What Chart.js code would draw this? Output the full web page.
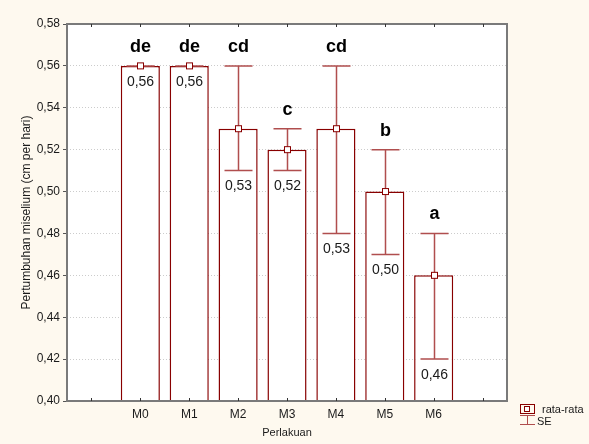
<!DOCTYPE html>
<html>
<head>
<meta charset="utf-8">
<script src="https://cdn.jsdelivr.net/npm/chart.js@4.4.1/dist/chart.umd.min.js"></script>
<style>
  html, body { margin: 0; padding: 0; background: #fef9ef; }
  #wadah { width: 589px; height: 444px; }
</style>
</head>
<body>
<div id="wadah"><canvas id="grafik" width="589" height="444"></canvas></div>
<script>
// Data perlakuan (kosong di kiri dan kanan seperti grafik aslinya)
const kategori = ['', 'M0', 'M1', 'M2', 'M3', 'M4', 'M5', 'M6', ''];
const rataRata = [null, 0.56, 0.56, 0.53, 0.52, 0.53, 0.50, 0.46, null];
const seBawah = [null, 0.56, 0.56, 0.51, 0.51, 0.48, 0.47, 0.42, null];
const seAtas = [null, 0.56, 0.56, 0.56, 0.53, 0.56, 0.52, 0.48, null];
const labelNilai = ['', '0,56', '0,56', '0,53', '0,52', '0,53', '0,50', '0,46', ''];
const notasi = ['', 'de', 'de', 'cd', 'c', 'cd', 'b', 'a', ''];

const warnaBatang = '#880000';
const warnaSE = '#b04e4e';
const huruf = '"Liberation Sans", Arial, sans-serif';

// Plugin untuk error bar, label, bingkai dan legenda
const pluginTambahan = {
    id: 'tambahan',
    afterDatasetsDraw(chart) {
        const ctx = chart.ctx;
        const x = chart.scales.x;
        const y = chart.scales.y;
        const area = chart.chartArea;
        ctx.save();
        // error bar
        for (let i = 0; i < kategori.length; i++) {
            if (rataRata[i] === null) continue;
            const px = Math.round(x.getPixelForValue(i)) + 0.5;
            const yAtas = y.getPixelForValue(seAtas[i]);
            const yBawah = y.getPixelForValue(seBawah[i]);
            const yMean = y.getPixelForValue(rataRata[i]);
            ctx.strokeStyle = warnaSE;
            ctx.lineWidth = 1.5;
            ctx.beginPath();
            ctx.moveTo(px, yAtas); ctx.lineTo(px, yBawah);
            ctx.moveTo(px - 14, yAtas); ctx.lineTo(px + 14, yAtas);
            ctx.moveTo(px - 14, yBawah); ctx.lineTo(px + 14, yBawah);
            ctx.stroke();
            // titik rata-rata
            ctx.fillStyle = '#ffffff';
            ctx.strokeStyle = warnaBatang;
            ctx.lineWidth = 1;
            ctx.fillRect(px - 3, yMean - 3, 6, 6);
            ctx.strokeRect(px - 3, yMean - 3, 6, 6);
            // label nilai
            ctx.fillStyle = '#1a1a1a';
            ctx.font = '14px ' + huruf;
            ctx.textAlign = 'center';
            ctx.textBaseline = 'middle';
            ctx.fillText(labelNilai[i], px, yBawah + 16);
            // notasi huruf
            ctx.font = 'bold 18px ' + huruf;
            ctx.fillStyle = '#000000';
            ctx.fillText(notasi[i], px, yAtas - 19);
        }
        // bingkai
        ctx.strokeStyle = '#7a7a7a';
        ctx.lineWidth = 2;
        ctx.strokeRect(area.left, area.top, area.right - area.left, area.bottom - area.top);
        // tanda tick kecil di sumbu x
        ctx.lineWidth = 1;
        ctx.strokeStyle = '#333333';
        for (let i = 0; i < kategori.length; i++) {
            const px = Math.round(x.getPixelForValue(i)) + 0.5;
            ctx.beginPath();
            ctx.moveTo(px, area.bottom - 3); ctx.lineTo(px, area.bottom);
            ctx.moveTo(px, area.top); ctx.lineTo(px, area.top + 3);
            ctx.stroke();
        }
        // legenda
        ctx.strokeStyle = warnaBatang;
        ctx.lineWidth = 1;
        ctx.strokeRect(520.5, 404.5, 14, 9);
        ctx.fillStyle = '#ffffff';
        ctx.fillRect(525, 407, 4, 4);
        ctx.strokeRect(524.5, 406.5, 5, 5);
        ctx.strokeStyle = warnaSE;
        ctx.beginPath();
        ctx.moveTo(520, 415.5); ctx.lineTo(535, 415.5);
        ctx.moveTo(527.5, 415.5); ctx.lineTo(527.5, 424);
        ctx.moveTo(520, 424.5); ctx.lineTo(535, 424.5);
        ctx.stroke();
        ctx.fillStyle = '#1a1a1a';
        ctx.font = '11px ' + huruf;
        ctx.textAlign = 'left';
        ctx.textBaseline = 'middle';
        ctx.fillText('rata-rata', 542, 410);
        ctx.fillText('SE', 537, 422);
        ctx.restore();
    }
};

const grafik = new Chart(document.getElementById('grafik').getContext('2d'), {
    type: 'bar',
    data: {
        labels: kategori,
        datasets: [{
            label: 'rata-rata',
            data: rataRata,
            base: 0.40,
            backgroundColor: '#ffffff',
            borderColor: warnaBatang,
            borderWidth: { top: 1.5, left: 1.5, right: 1.5, bottom: 0 },
            borderSkipped: false,
            barPercentage: 0.8,
            categoryPercentage: 1.0
        }]
    },
    options: {
        responsive: false,
        animation: false,
        layout: { padding: { top: 24, right: 82, left: 0, bottom: 0 } },
        plugins: {
            legend: { display: false },
            tooltip: { enabled: false }
        },
        scales: {
            x: {
                offset: true,
                grid: { display: false, drawTicks: false },
                border: { display: false },
                ticks: { color: '#1a1a1a', font: { family: huruf, size: 12 }, padding: 6 },
                title: { display: true, text: 'Perlakuan', color: '#1a1a1a', font: { family: huruf, size: 11 }, padding: { top: 4 } },
                afterFit(scale) { scale.height = 43; }
            },
            y: {
                min: 0.40,
                max: 0.58,
                ticks: {
                    stepSize: 0.02,
                    color: '#1a1a1a',
                    font: { family: huruf, size: 12 },
                    padding: 3,
                    callback: v => v.toFixed(2).replace('.', ',')
                },
                grid: {
                    color: '#cccccc',
                    tickColor: '#555555',
                    tickLength: 4
                },
                border: { display: false, dash: [1, 2] },
                title: { display: true, text: 'Pertumbuhan miselium (cm per hari)', color: '#1a1a1a', font: { family: huruf, size: 12 }, padding: { top: 19, bottom: 0 } },
                afterFit(scale) { scale.width = 67; }
            }
        }
    },
    plugins: [{
        id: 'latar',
        beforeDraw(chart) {
            const c = chart.ctx, a = chart.chartArea;
            c.save();
            c.fillStyle = '#fef9ef';
            c.fillRect(0, 0, chart.width, chart.height);
            c.fillStyle = '#ffffff';
            c.fillRect(a.left, a.top, a.right - a.left, a.bottom - a.top);
            c.restore();
        }
    }, pluginTambahan]
});
</script>
</body>
</html>
